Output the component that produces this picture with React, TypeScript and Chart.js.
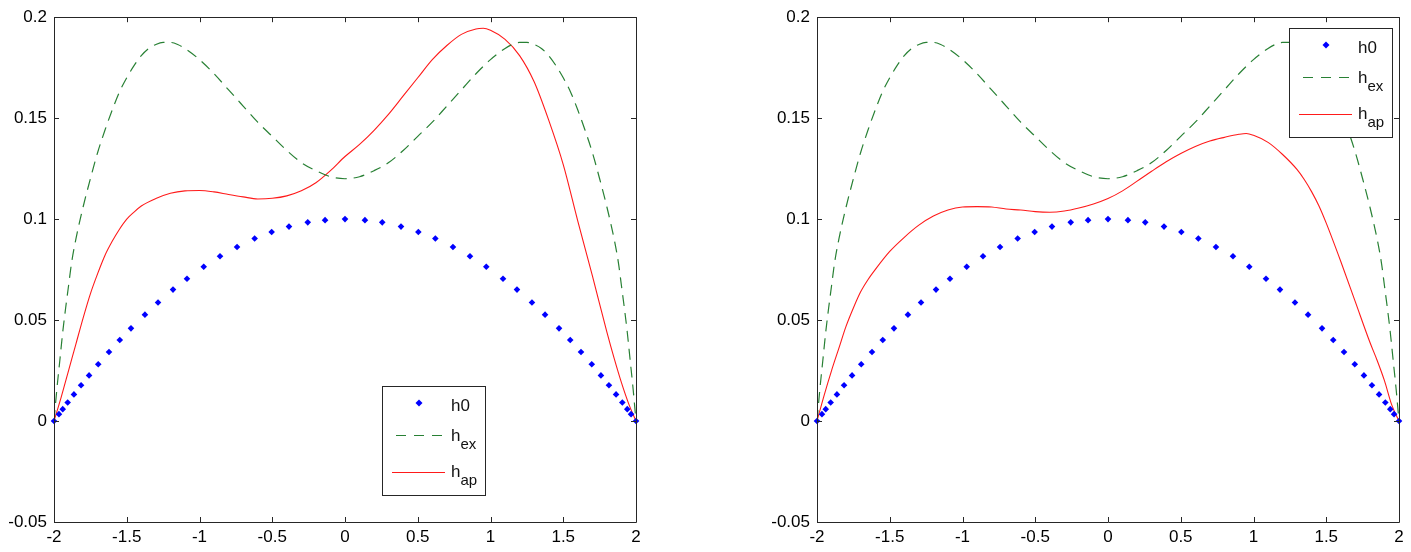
import React, { useEffect, useRef } from 'react';
import { Chart, registerables } from 'chart.js';

Chart.register(...registerables);

// ---------- tick values & labels ----------
const X_TICKS = [-2, -1.5, -1, -0.5, 0, 0.5, 1, 1.5, 2];
const X_TICK_LABELS = ['-2', '-1.5', '-1', '-0.5', '0', '0.5', '1', '1.5', '2'];
const Y_TICKS = [-0.05, 0, 0.05, 0.1, 0.15, 0.2];
const Y_TICK_LABELS = ['-0.05', '0', '0.05', '0.1', '0.15', '0.2'];

// ---------- series: h0 (dotted markers, same in both panels) ----------
const H0_X = [
  -2, -1.966, -1.94, -1.906, -1.863, -1.814, -1.759, -1.696, -1.622, -1.548, -1.471, -1.375,
  -1.285, -1.182, -1.086, -0.971, -0.859, -0.742, -0.621, -0.504, -0.385, -0.256, -0.137, 0,
  0.137, 0.256, 0.385, 0.504, 0.621, 0.742, 0.859, 0.971, 1.086, 1.182, 1.285, 1.375,
  1.471, 1.548, 1.622, 1.696, 1.759, 1.814, 1.863, 1.906, 1.94, 1.966, 2,
];
const H0_Y = [
  0, 0.0034, 0.0059, 0.0092, 0.0132, 0.0177, 0.0226, 0.0281, 0.0342, 0.0401, 0.0459, 0.0527,
  0.0587, 0.0651, 0.0705, 0.0764, 0.0816, 0.0862, 0.0904, 0.0936, 0.0963, 0.0984, 0.0995, 0.1,
  0.0995, 0.0984, 0.0963, 0.0936, 0.0904, 0.0862, 0.0816, 0.0764, 0.0705, 0.0651, 0.0587, 0.0527,
  0.0459, 0.0401, 0.0342, 0.0281, 0.0226, 0.0177, 0.0132, 0.0092, 0.0059, 0.0034, 0,
];

// ---------- series: h_ex (dashed, same in both panels) ----------
const HEX_X = [
  -2, -1.98, -1.96, -1.94, -1.92, -1.9, -1.88, -1.85, -1.8, -1.75, -1.7, -1.65, -1.6, -1.55,
  -1.5, -1.45, -1.4, -1.35, -1.3, -1.25, -1.2, -1.15, -1.1, -1.0, -0.9, -0.8, -0.7, -0.6,
  -0.5, -0.4, -0.3, -0.2, -0.1, 0,
  0.1, 0.2, 0.3, 0.4, 0.5, 0.6, 0.7, 0.8, 0.9, 1.0, 1.1, 1.15, 1.2, 1.25, 1.3, 1.35, 1.4,
  1.45, 1.5, 1.55, 1.6, 1.65, 1.7, 1.75, 1.8, 1.85, 1.88, 1.9, 1.92, 1.94, 1.96, 1.98, 2,
];
const HEX_Y = [
  0, 0.016, 0.03, 0.044, 0.056, 0.067, 0.078, 0.09, 0.106, 0.12, 0.133, 0.144, 0.154, 0.163,
  0.17, 0.176, 0.181, 0.1845, 0.1865, 0.1875, 0.1875, 0.1865, 0.1845, 0.179, 0.172, 0.164, 0.156, 0.148,
  0.141, 0.134, 0.128, 0.124, 0.121, 0.12,
  0.121, 0.124, 0.128, 0.134, 0.141, 0.148, 0.156, 0.164, 0.172, 0.179, 0.1845, 0.1865, 0.1875, 0.1875, 0.1865, 0.1845, 0.181,
  0.176, 0.17, 0.163, 0.154, 0.144, 0.133, 0.12, 0.106, 0.09, 0.078, 0.067, 0.056, 0.044, 0.03, 0.016, 0,
];

// ---------- series: h_ap, left panel ----------
const HAP_LEFT_X = [
  -2, -1.95, -1.9, -1.85, -1.8, -1.75, -1.7, -1.65, -1.6, -1.55, -1.5, -1.45, -1.4,
  -1.3, -1.2, -1.1, -1.0, -0.9, -0.8, -0.7, -0.6, -0.5, -0.4, -0.3, -0.2, -0.1, 0,
  0.1, 0.2, 0.3, 0.4, 0.5, 0.6, 0.7, 0.8, 0.9, 0.95, 1.0,
  1.1, 1.2, 1.3, 1.4, 1.5, 1.6, 1.7, 1.8, 1.85, 1.9, 1.95, 2,
];
const HAP_LEFT_Y = [
  0, 0.012, 0.025, 0.038, 0.051, 0.063, 0.073, 0.082, 0.089, 0.095, 0.1, 0.1035, 0.1065,
  0.1102, 0.1128, 0.114, 0.1142, 0.1135, 0.1122, 0.111, 0.11, 0.1103, 0.1115, 0.114, 0.118, 0.124, 0.131,
  0.137, 0.144, 0.152, 0.161, 0.17, 0.179, 0.186, 0.1915, 0.1942, 0.1945, 0.1935,
  0.189, 0.181, 0.168, 0.149, 0.127, 0.099, 0.072, 0.044, 0.031, 0.019, 0.0085, 0,
];

// ---------- series: h_ap, right panel ----------
const HAP_RIGHT_X = [
  -2, -1.95, -1.9, -1.85, -1.8, -1.75, -1.7, -1.65, -1.6,
  -1.5, -1.4, -1.3, -1.2, -1.1, -1.0, -0.9, -0.8, -0.7, -0.6, -0.5, -0.4, -0.3, -0.2, -0.1, 0,
  0.1, 0.2, 0.3, 0.4, 0.5, 0.6, 0.7, 0.8, 0.9, 0.95, 1.0,
  1.1, 1.2, 1.3, 1.35, 1.4, 1.45, 1.5, 1.6, 1.7, 1.8, 1.85, 1.9, 1.95, 2,
];
const HAP_RIGHT_Y = [
  0, 0.013, 0.025, 0.036, 0.047, 0.056, 0.064, 0.07, 0.075,
  0.084, 0.091, 0.097, 0.1015, 0.1045, 0.106, 0.1062, 0.106, 0.105, 0.1045, 0.1037, 0.1034, 0.104, 0.1055, 0.1075, 0.1102,
  0.114, 0.1188, 0.1237, 0.1284, 0.1325, 0.136, 0.1387, 0.1405, 0.142, 0.1424, 0.1415,
  0.138, 0.132, 0.1245, 0.1195, 0.1135, 0.1065, 0.098, 0.079, 0.059, 0.039, 0.03, 0.02, 0.008, 0,
];

// ---------- legend labels (main text + subscript) ----------
const LEGEND_MAIN = ['h0', 'h', 'h'];
const LEGEND_SUB = ['', 'ex', 'ap'];

const FONT_FAMILY = "'Liberation Sans', Arial, Helvetica, sans-serif";
const BLUE = '#0000ff';
const GREEN = 'rgb(40,128,52)';
const RED = '#ff1a1a';
const FRAME = '#262626';
const LINE_DASH = [11, 7];

const toPoints = (xs: number[], ys: number[]) => xs.map((x, i) => ({ x, y: ys[i] }));

const framePlugin = {
  id: 'matlabFrame',
  afterDatasetsDraw(chart: any, _args: any, opts: any) {
    const ctx: CanvasRenderingContext2D = chart.ctx;
    const { left, right, top, bottom } = chart.chartArea;
    const xs = chart.scales.x;
    const ys = chart.scales.y;
    ctx.save();
    ctx.strokeStyle = FRAME;
    ctx.lineWidth = 1;
    ctx.setLineDash([]);
    // axes box
    ctx.beginPath();
    ctx.rect(Math.round(left) + 0.5, Math.round(top) + 0.5, Math.round(right - left), Math.round(bottom - top));
    ctx.stroke();
    // inward ticks on all sides
    ctx.beginPath();
    xs.ticks.forEach((t: any) => {
      const px = Math.round(xs.getPixelForValue(t.value)) + 0.5;
      ctx.moveTo(px, bottom);
      ctx.lineTo(px, bottom - 5);
      ctx.moveTo(px, top);
      ctx.lineTo(px, top + 5);
    });
    ys.ticks.forEach((t: any) => {
      const py = Math.round(ys.getPixelForValue(t.value)) + 0.5;
      ctx.moveTo(left, py);
      ctx.lineTo(left + 5, py);
      ctx.moveTo(right, py);
      ctx.lineTo(right - 5, py);
    });
    ctx.stroke();

    // legend box
    const x0 = Math.round(left + opts.legendX);
    const y0 = Math.round(top + opts.legendY);
    const w = 103;
    const h = 109;
    ctx.fillStyle = '#ffffff';
    ctx.fillRect(x0, y0, w, h);
    ctx.strokeStyle = FRAME;
    ctx.strokeRect(x0 + 0.5, y0 + 0.5, w, h);

    const ds = chart.data.datasets;
    // entry 0: marker
    ctx.fillStyle = ds[0].pointBackgroundColor;
    const mx = x0 + 37;
    const my = y0 + 17;
    ctx.beginPath();
    ctx.moveTo(mx, my - 3.5);
    ctx.lineTo(mx + 3.5, my);
    ctx.lineTo(mx, my + 3.5);
    ctx.lineTo(mx - 3.5, my);
    ctx.closePath();
    ctx.fill();
    // entry 1: dashed line
    ctx.strokeStyle = ds[1].borderColor;
    ctx.lineWidth = 1.2;
    ctx.setLineDash([10, 8]);
    ctx.beginPath();
    ctx.moveTo(x0 + 14, y0 + 49.5);
    ctx.lineTo(x0 + 63, y0 + 49.5);
    ctx.stroke();
    // entry 2: solid line
    ctx.strokeStyle = ds[2].borderColor;
    ctx.setLineDash([]);
    ctx.beginPath();
    ctx.moveTo(x0 + 10, y0 + 86.5);
    ctx.lineTo(x0 + 63, y0 + 86.5);
    ctx.stroke();

    // texts
    const baselines = [25, 55, 91];
    ctx.fillStyle = '#111111';
    ctx.textBaseline = 'alphabetic';
    ctx.textAlign = 'left';
    LEGEND_MAIN.forEach((label, i) => {
      ctx.font = `17px ${FONT_FAMILY}`;
      const tx = x0 + 69;
      const ty = y0 + baselines[i];
      ctx.fillText(label, tx, ty);
      if (LEGEND_SUB[i]) {
        const mw = ctx.measureText(label).width;
        ctx.font = `15px ${FONT_FAMILY}`;
        ctx.fillText(LEGEND_SUB[i], tx + mw, ty + 8);
      }
    });
    ctx.restore();
  },
};

function Panel({ hapX, hapY, legendX, legendY, left }: { hapX: number[]; hapY: number[]; legendX: number; legendY: number; left: number }) {
  const ref = useRef<HTMLCanvasElement | null>(null);
  useEffect(() => {
    if (!ref.current) return;
    const tickFont = { family: FONT_FAMILY, size: 17 };
    const chart = new Chart(ref.current, {
      type: 'line',
      data: {
        datasets: [
          {
            label: 'h0',
            data: toPoints(H0_X, H0_Y),
            showLine: false,
            pointStyle: 'rectRot',
            pointRadius: 3.3,
            pointBackgroundColor: BLUE,
            pointBorderWidth: 0,
            pointBorderColor: BLUE,
            borderColor: BLUE,
            clip: false,
          },
          {
            label: 'h_ex',
            data: toPoints(HEX_X, HEX_Y),
            borderColor: GREEN,
            borderWidth: 1.2,
            borderDash: LINE_DASH,
            pointRadius: 0,
            cubicInterpolationMode: 'monotone',
            fill: false,
          },
          {
            label: 'h_ap',
            data: toPoints(hapX, hapY),
            borderColor: RED,
            borderWidth: 1.1,
            pointRadius: 0,
            cubicInterpolationMode: 'monotone',
            fill: false,
          },
        ],
      } as any,
      options: {
        animation: false,
        responsive: false,
        devicePixelRatio: 1,
        events: [],
        layout: { padding: { top: 17, right: 12, left: 0, bottom: 0 } },
        plugins: {
          legend: { display: false },
          tooltip: { enabled: false },
          matlabFrame: { legendX, legendY },
        } as any,
        scales: {
          x: {
            type: 'linear',
            min: -2,
            max: 2,
            grid: { display: false, drawTicks: false },
            border: { display: false },
            afterBuildTicks: (s: any) => {
              s.ticks = X_TICKS.map((v) => ({ value: v }));
            },
            afterFit: (s: any) => {
              s.height = 30;
            },
            ticks: {
              autoSkip: false,
              maxRotation: 0,
              padding: 5,
              color: '#000',
              font: tickFont,
              callback: (_v: any, i: number) => X_TICK_LABELS[i],
            },
          },
          y: {
            type: 'linear',
            min: -0.05,
            max: 0.2,
            grid: { display: false, drawTicks: false },
            border: { display: false },
            afterBuildTicks: (s: any) => {
              s.ticks = Y_TICKS.map((v) => ({ value: v }));
            },
            afterFit: (s: any) => {
              s.width = 54;
            },
            ticks: {
              autoSkip: false,
              padding: 7,
              color: '#000',
              font: tickFont,
              callback: (_v: any, i: number) => Y_TICK_LABELS[i],
            },
          },
        },
      } as any,
      plugins: [framePlugin as any],
    });
    return () => chart.destroy();
  }, [hapX, hapY, legendX, legendY]);

  return (
    <canvas
      ref={ref}
      width={648}
      height={552}
      style={{ position: 'absolute', left, top: 0, width: 648, height: 552, display: 'block' }}
    />
  );
}

export default function App() {
  return (
    <div style={{ position: 'absolute', left: 0, top: 0, width: 1411, height: 552, background: '#ffffff', overflow: 'hidden' }}>
      <Panel hapX={HAP_LEFT_X} hapY={HAP_LEFT_Y} legendX={328} legendY={369} left={0} />
      <Panel hapX={HAP_RIGHT_X} hapY={HAP_RIGHT_Y} legendX={472} legendY={11} left={763} />
    </div>
  );
}
